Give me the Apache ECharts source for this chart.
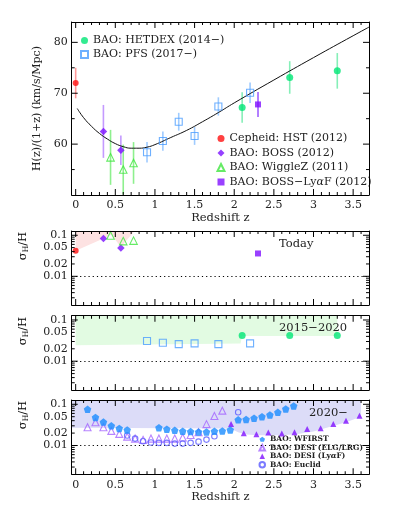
<!DOCTYPE html>
<html><head><meta charset="utf-8">
<script src="https://cdn.jsdelivr.net/npm/echarts@6/dist/echarts.min.js"></script>
<style>html,body{margin:0;padding:0;background:#fff}#c{width:403px;height:521px}</style>
</head><body><div id="c"></div>
<script>
// ---------------- data ----------------
const zCepheid = [0];
const hCepheid = [72.0];
const eCepheid = [3.0];

const zBOSS = [0.35, 0.57];
const hBOSS = [62.5, 58.8];
const eBOSS = [5.2, 2.9];

const zWiggleZ = [0.44, 0.60, 0.73];
const hWiggleZ = [57.4, 55.0, 56.3];
const eWiggleZ = [5.4, 4.9, 4.1];

const zLyaF = [2.3];
const hLyaF = [67.8];
const eLyaF = [2.45];

const zHETDEX = [2.1, 2.7, 3.3];
const hHETDEX = [67.2, 73.1, 74.4];
const eHETDEX = [3.0, 3.2, 3.5];

const zPFS = [0.9, 1.1, 1.3, 1.5, 1.8, 2.2];
const hPFS = [58.4, 60.6, 64.4, 61.6, 67.4, 70.1];
const ePFS = [2.0, 1.9, 1.75, 1.75, 1.8, 2.0];

const zModel = [0.02, 0.1, 0.2, 0.3, 0.4, 0.5, 0.6, 0.7, 0.8, 0.9, 1.0, 1.2, 1.4, 1.6, 1.8, 2.0, 2.5, 3.0, 3.5, 3.7];
const hModel = [67.0, 65.2, 63.5, 62.1, 61.0, 60.1, 59.5, 59.2, 59.2, 59.4, 59.9, 61.3, 62.7, 64.4, 66.2, 68.1, 72.6, 77.0, 81.3, 83.0];

const sCepheid = [0.042];
const sBOSS = [0.083, 0.049];
const sWiggleZ = [0.099, 0.072, 0.074];
const sLyaF = [0.036];
const bandTodayZ = [0, 0.35, 0.45, 0.57, 0.74];
const bandTodayS = [0.042, 0.083, 0.105, 0.052, 0.125];

const sPFS = [0.031, 0.028, 0.026, 0.027, 0.026, 0.027];
const sHETDEX = [0.042, 0.042, 0.042];
const bandMidZ = [0, 2.08, 2.1, 3.3];
const bandMidS = [0.0245, 0.027, 0.041, 0.041];

const zWFIRST = [0.15, 0.25, 0.35, 0.45, 0.55, 0.65, 1.05, 1.15, 1.25, 1.35, 1.45, 1.55, 1.65, 1.75, 1.85, 1.95, 2.05, 2.15, 2.25, 2.35, 2.45, 2.55, 2.65, 2.75];
const sWFIRST = [0.0756, 0.048, 0.037, 0.030, 0.026, 0.0239, 0.027, 0.0248, 0.0234, 0.0222, 0.0218, 0.0213, 0.0213, 0.0222, 0.0226, 0.0239, 0.042, 0.043, 0.046, 0.050, 0.055, 0.064, 0.077, 0.091];
const zDESI = [0.15, 0.25, 0.35, 0.45, 0.55, 0.65, 0.75, 0.85, 0.95, 1.05, 1.15, 1.25, 1.35, 1.45, 1.55, 1.65, 1.75, 1.85];
const sDESI = [0.0277, 0.0366, 0.0277, 0.0226, 0.0191, 0.0164, 0.0147, 0.0137, 0.0147, 0.0147, 0.0147, 0.0147, 0.0156, 0.018, 0.021, 0.033, 0.052, 0.07];
const zDESILya = [1.96, 2.12, 2.28, 2.43, 2.60, 2.76, 2.92, 3.09, 3.25, 3.41, 3.58];
const sDESILya = [0.033, 0.0198, 0.0187, 0.0206, 0.0195, 0.021, 0.0252, 0.0263, 0.0334, 0.040, 0.053];
const zEuclid = [0.65, 0.75, 0.85, 0.95, 1.05, 1.15, 1.25, 1.35, 1.45, 1.55, 1.65, 1.75, 2.05];
const sEuclid = [0.0175, 0.0147, 0.0127, 0.0118, 0.0116, 0.0116, 0.0111, 0.0111, 0.0116, 0.0124, 0.0139, 0.0167, 0.064];
const bandFutZ = [-0.05, 1.95, 2.05, 2.15, 2.3, 2.6, 2.8, 3.0, 3.2, 3.4, 3.6];
const bandFutS = [0.027, 0.026, 0.021, 0.0185, 0.0178, 0.0178, 0.019, 0.022, 0.028, 0.036, 0.05];

// Axis ticks / labels
const xLabels = [0, 0.5, 1, 1.5, 2, 2.5, 3, 3.5];
const xMinor = [0.1, 0.2, 0.3, 0.4, 0.6, 0.7, 0.8, 0.9, 1.1, 1.2, 1.3, 1.4, 1.6, 1.7, 1.8, 1.9, 2.1, 2.2, 2.3, 2.4, 2.6, 2.7, 2.8, 2.9, 3.1, 3.2, 3.3, 3.4, 3.6];
const hLabels = [60, 70, 80];
const hMinor = [55, 65, 75];
const sLabels = [0.01, 0.02, 0.05, 0.1];
const sMajor = [0.01, 0.1];
const sMinor = [0.003, 0.004, 0.005, 0.006, 0.007, 0.008, 0.009, 0.02, 0.03, 0.04, 0.05, 0.06, 0.07, 0.08, 0.09];

// ---------------- styling ----------------
const FONT = 'DejaVu Serif';
const TXT = '#222';
const XMIN = -0.05, XMAX = 3.7;
const YMIN = [50, 0.002, 0.002, 0.002];
const YMAX = [84, 0.127, 0.127, 0.127];
const C = {
  red: '#ff1010', redErr: '#ff9a9a',
  boss: '#7a10ff', bossErr: '#c49aff',
  wig: '#3ee63e', wigErr: '#8ef08e',
  lya: '#8010ff', lyaErr: '#a060ff',
  het: '#00e676', hetErr: '#86efb8',
  pfs: '#4a9cff', pfsErr: '#9fcbff',
  wf: '#1a8cff', desi: '#a464ff', desiLya: '#8010ff', euc: '#5a5aff',
  pink: '#fde2e2', green: '#e2fbe2', lav: '#dcdcf8'
};

const grids = [
  {left: 71.7, right: 34, top: 22, height: 173},
  {left: 71.7, right: 34, top: 231, height: 74},
  {left: 71.7, right: 34, top: 315.7, height: 74.3},
  {left: 71.7, right: 34, top: 400, height: 74.3}
];

const lineSt = {color: '#000', width: 1};
function fmtNum(v) { return String(Number(Number(v).toPrecision(3))); }

function xAxesFor(g, withLabels) {
  const base = {type: 'value', gridIndex: g, min: XMIN, max: XMAX, z: 10,
    splitLine: {show: false}, axisTick: {show: false},
    axisLine: {show: true, onZero: false, lineStyle: lineSt}};
  return [
    Object.assign({}, base, {position: 'bottom',
      axisLabel: {show: withLabels, customValues: xLabels, formatter: fmtNum, margin: 5,
        fontFamily: FONT, fontSize: 11, color: TXT},
      name: withLabels ? 'Redshift z' : '', nameLocation: 'middle', nameGap: 14,
      nameTextStyle: {fontFamily: FONT, fontSize: 11.5, color: TXT, verticalAlign: 'top'}}),
    Object.assign({}, base, {position: 'top', axisLabel: {show: false}})
  ];
}

function yAxesFor(g, type, labels, name) {
  const base = {type: type, gridIndex: g, min: YMIN[g], max: YMAX[g], z: 10,
    splitLine: {show: false}, minorSplitLine: {show: false}, axisTick: {show: false},
    axisLine: {show: true, onZero: false, lineStyle: lineSt}};
  if (type === 'log') base.logBase = 10;
  return [
    Object.assign({}, base, {position: 'left',
      axisLabel: {show: true, customValues: labels, formatter: fmtNum, margin: 4,
        fontFamily: FONT, fontSize: 11, color: TXT},
      name: name || '', nameLocation: 'middle', nameRotate: 90, nameGap: 29,
      nameTextStyle: {fontFamily: FONT, fontSize: 11, color: TXT}}),
    Object.assign({}, base, {position: 'right', axisLabel: {show: false}})
  ];
}

const xAxis = [].concat(xAxesFor(0, true), xAxesFor(1, false), xAxesFor(2, false), xAxesFor(3, true));
const yAxis = [].concat(
  yAxesFor(0, 'value', hLabels, 'H(z)/(1+z) (km/s/Mpc)'),
  yAxesFor(1, 'log', sLabels),
  yAxesFor(2, 'log', sLabels),
  yAxesFor(3, 'log', sLabels)
);

function pairs(xs, ys) { return xs.map((x, i) => [x, ys[i]]); }

// frame tick marks: thin bars anchored on the frame at the tick values
function tickMarks(g, pts, size, offset) {
  return {
    type: 'scatter', xAxisIndex: g * 2, yAxisIndex: g * 2, silent: true, z: 20, clip: false,
    symbol: 'rect', symbolSize: size, symbolOffset: offset,
    itemStyle: {color: '#000', borderWidth: 0, opacity: 1},
    emphasis: {disabled: true},
    data: pts
  };
}

function errSeries(xs, ys, es, color) {
  return {
    type: 'custom', xAxisIndex: 0, yAxisIndex: 0, silent: true, z: 1,
    encode: {x: 0, y: [1, 2]},
    data: xs.map((x, i) => [x, ys[i] - es[i], ys[i] + es[i]]),
    renderItem: function (params, api) {
      const p0 = api.coord([api.value(0), api.value(1)]);
      const p1 = api.coord([api.value(0), api.value(2)]);
      return {type: 'line', shape: {x1: p0[0], y1: p0[1], x2: p1[0], y2: p1[1]},
        style: {stroke: color, lineWidth: 1.6}};
    }
  };
}

function scat(name, g, xs, ys, symbol, size, color, hollow) {
  return {
    type: 'scatter', name: name, xAxisIndex: g * 2, yAxisIndex: g * 2, z: 5,
    symbol: symbol, symbolSize: size, silent: true,
    itemStyle: hollow ? {color: 'rgba(255,255,255,0)', borderColor: color, borderWidth: 1.1}
                      : {color: color, borderWidth: 0},
    data: pairs(xs, ys)
  };
}

function band(g, xs, ys, color) {
  return {
    type: 'line', xAxisIndex: g * 2, yAxisIndex: g * 2, z: 0, silent: true,
    showSymbol: false, symbol: 'none',
    lineStyle: {width: 0, opacity: 0},
    areaStyle: {color: color, opacity: 1, origin: 'end'},
    data: pairs(xs, ys),
    markLine: {silent: true, symbol: 'none', label: {show: false},
      lineStyle: {color: '#000', width: 1, type: [1.2, 3]},
      data: [{yAxis: 0.01}]}
  };
}

const PENT = 'path://M0,-1 L0.951,-0.309 L0.588,0.809 L-0.588,0.809 L-0.951,-0.309 Z';

const N = {
  het: 'BAO: HETDEX (2014\u2212)', pfs: 'BAO: PFS (2017\u2212)',
  cep: 'Cepheid: HST (2012)', boss: 'BAO: BOSS (2012)',
  wig: 'BAO: WiggleZ (2011)', lya: 'BAO: BOSS\u2212Ly\u03b1F (2012)',
  wf: 'BAO: WFIRST', desi: 'BAO: DESI (ELG/LRG)', dlya: 'BAO: DESI (Ly\u03b1F)', euc: 'BAO: Euclid'
};

const series = [];
// frame ticks on all four sides of every panel
for (let g = 0; g < 4; g++) {
  const maj = g === 0 ? hLabels : sMajor;
  const mnr = g === 0 ? hMinor : sMinor;
  series.push(
    tickMarks(g, xLabels.map(v => [v, YMIN[g]]), [1, 6], [0, -3]),
    tickMarks(g, xLabels.map(v => [v, YMAX[g]]), [1, 6], [0, 3]),
    tickMarks(g, xMinor.map(v => [v, YMIN[g]]), [1, 3], [0, -1.5]),
    tickMarks(g, xMinor.map(v => [v, YMAX[g]]), [1, 3], [0, 1.5]),
    tickMarks(g, maj.map(v => [XMIN, v]), [6, 1], [3, 0]),
    tickMarks(g, maj.map(v => [XMAX, v]), [6, 1], [-3, 0]),
    tickMarks(g, mnr.map(v => [XMIN, v]), [3, 1], [1.5, 0]),
    tickMarks(g, mnr.map(v => [XMAX, v]), [3, 1], [-1.5, 0])
  );
}
series.push(
  // panel 1
  {type: 'line', xAxisIndex: 0, yAxisIndex: 0, smooth: true, showSymbol: false, symbol: 'none',
   silent: true, z: 2, lineStyle: {color: '#111', width: 1}, data: pairs(zModel, hModel)},
  errSeries(zCepheid, hCepheid, eCepheid, C.redErr),
  errSeries(zBOSS, hBOSS, eBOSS, C.bossErr),
  errSeries(zWiggleZ, hWiggleZ, eWiggleZ, C.wigErr),
  errSeries(zLyaF, hLyaF, eLyaF, C.lyaErr),
  errSeries(zHETDEX, hHETDEX, eHETDEX, C.hetErr),
  errSeries(zPFS, hPFS, ePFS, C.pfsErr),
  scat(N.het, 0, zHETDEX, hHETDEX, 'circle', 7, C.het, false),
  scat(N.pfs, 0, zPFS, hPFS, 'rect', 7, C.pfs, true),
  scat(N.cep, 0, zCepheid, hCepheid, 'circle', 6, C.red, false),
  scat(N.boss, 0, zBOSS, hBOSS, 'diamond', 7.5, C.boss, false),
  scat(N.wig, 0, zWiggleZ, hWiggleZ, 'triangle', 7.5, C.wig, true),
  scat(N.lya, 0, zLyaF, hLyaF, 'rect', 6, C.lya, false),
  // panel 2
  band(1, bandTodayZ, bandTodayS, C.pink),
  scat('cep2', 1, zCepheid, sCepheid, 'circle', 6, C.red, false),
  scat('boss2', 1, zBOSS, sBOSS, 'diamond', 7.5, C.boss, false),
  scat('wig2', 1, zWiggleZ, sWiggleZ, 'triangle', 7.5, C.wig, true),
  scat('lya2', 1, zLyaF, sLyaF, 'rect', 6, C.lya, false),
  // panel 3
  band(2, bandMidZ, bandMidS, C.green),
  scat('pfs3', 2, zPFS, sPFS, 'rect', 7, C.pfs, true),
  scat('het3', 2, zHETDEX, sHETDEX, 'circle', 7, C.het, false),
  // panel 4
  band(3, bandFutZ, bandFutS, C.lav),
  scat(N.desi, 3, zDESI, sDESI, 'triangle', 7, C.desi, true),
  scat(N.euc, 3, zEuclid, sEuclid, 'circle', 5.5, C.euc, true),
  scat(N.dlya, 3, zDESILya, sDESILya, 'triangle', 6, C.desiLya, false),
  scat(N.wf, 3, zWFIRST, sWFIRST, PENT, 7.5, C.wf, false)
);

const alphaFmt = n => n.replace('\u03b1', '{i|\u03b1}');
function legendBox(names, left, top, fs, gap, icon, weight) {
  return {
    data: names, left: left, top: top, orient: 'vertical', selectedMode: false,
    itemWidth: icon, itemHeight: icon, itemGap: gap, padding: 0,
    formatter: alphaFmt,
    textStyle: {fontFamily: FONT, fontSize: fs, color: TXT, lineHeight: fs + 1, fontWeight: weight || 'normal',
      rich: {i: {fontFamily: FONT, fontSize: fs, fontStyle: 'italic', color: TXT, fontWeight: weight || 'normal'}}}
  };
}

function rot(x, y) {
  return {
    type: 'text', x: x, y: y, rotation: Math.PI / 2, silent: true, z: 100,
    style: {
      text: '{s|\u03c3}{h|H}{s|/H}', align: 'center', verticalAlign: 'middle',
      rich: {
        s: {fontFamily: FONT, fontSize: 11.5, color: TXT, lineHeight: 15},
        h: {fontFamily: FONT, fontSize: 7.5, color: TXT, verticalAlign: 'bottom', lineHeight: 15}
      }
    }
  };
}
function lab(text, x, y) {
  return {type: 'text', x: x, y: y, silent: true, z: 100,
    style: {text: text, fontFamily: FONT, fontSize: 11.5, fill: TXT, align: 'left', verticalAlign: 'middle'}};
}

const option = {
  animation: false,
  backgroundColor: '#fff',
  grid: grids,
  xAxis: xAxis,
  yAxis: yAxis,
  legend: [
    legendBox([N.het, N.pfs], 80, 34.5, 11, 2, 7),
    legendBox([N.cep, N.boss, N.wig, N.lya], 216.5, 132.5, 11, 2.5, 7),
    legendBox([N.wf, N.desi, N.dlya, N.euc], 258.5, 435, 7.5, 0, 5.5, 'bold')
  ],
  graphic: {elements: [
    rot(23, 246), rot(23, 331), rot(23, 415),
    lab('Today', 279, 244), lab('2015\u22122020', 279, 328), lab('2020\u2212', 309, 413)
  ]},
  series: series
};

const chart = echarts.init(document.getElementById('c'), null, {renderer: 'canvas'});
chart.setOption(option);
</script></body></html>
